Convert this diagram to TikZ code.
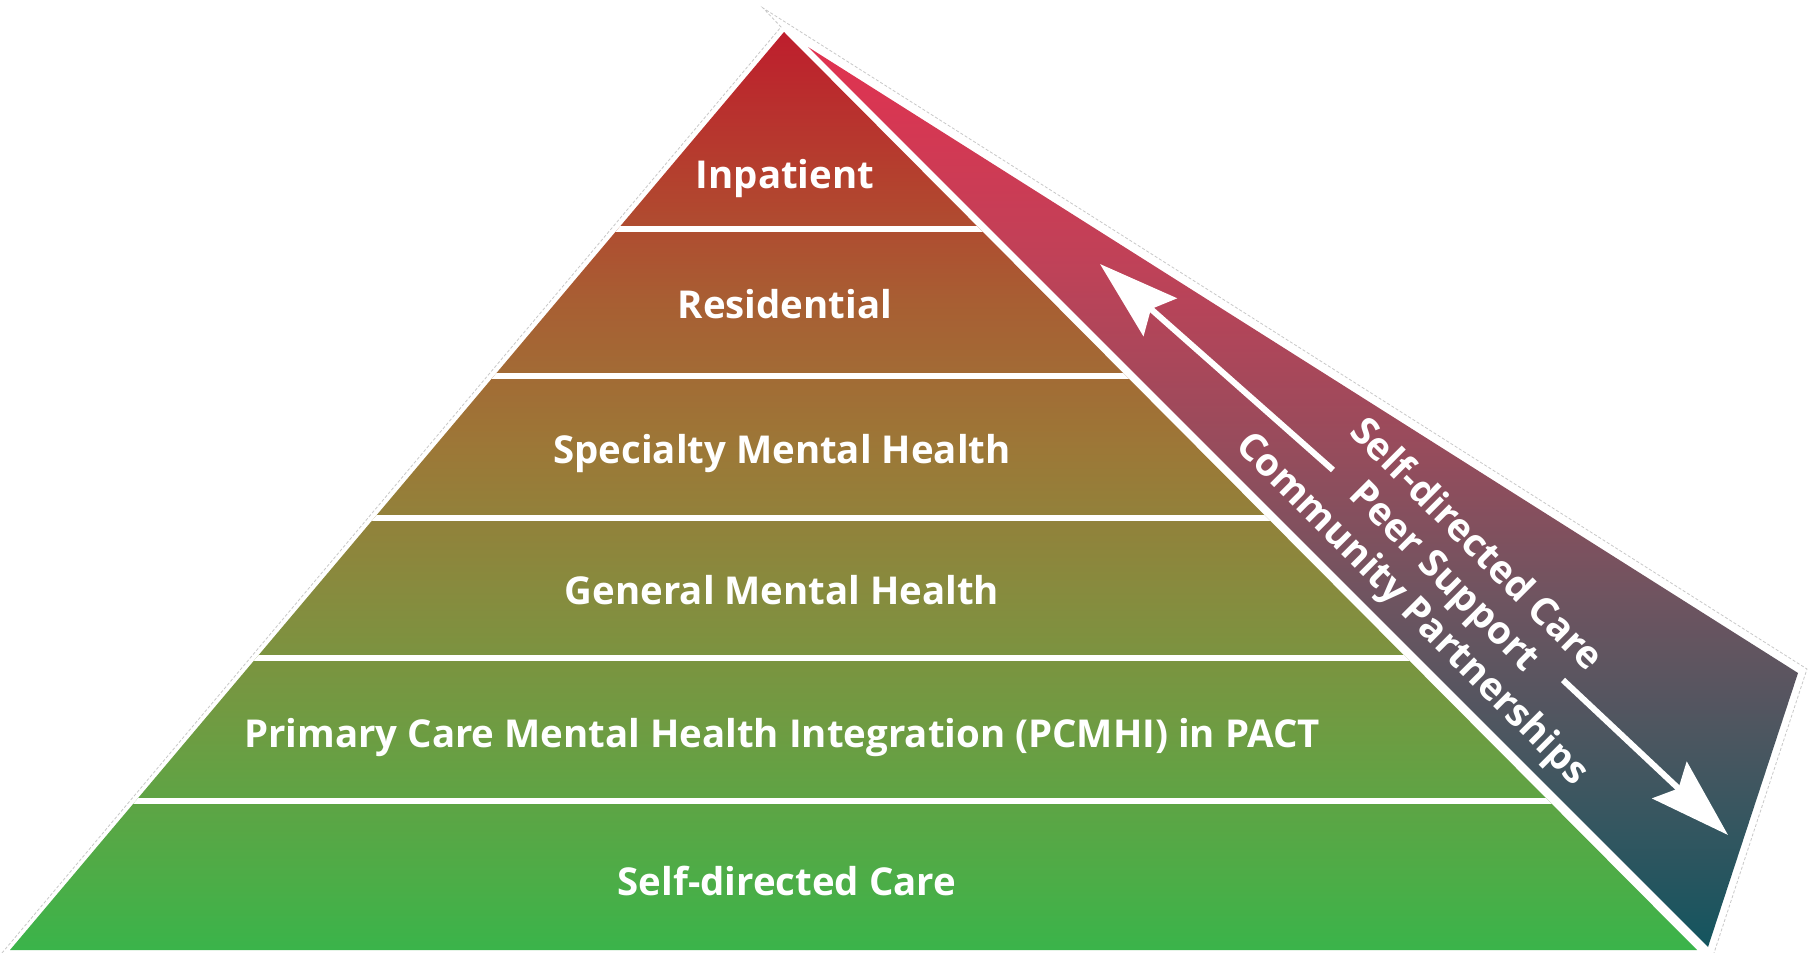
\documentclass[tikz,border=0pt]{standalone}
\usepackage{fontspec}
\setmainfont{Open Sans}
\usetikzlibrary{arrows.meta}

\definecolor{pgA}{RGB}{58,180,74}
\definecolor{pgB}{RGB}{76,173,71}
\definecolor{pgC}{RGB}{110,156,66}
\definecolor{pgD}{RGB}{135,139,62}
\definecolor{pgE}{RGB}{156,120,55}
\definecolor{pgF}{RGB}{168,94,51}
\definecolor{pgG}{RGB}{180,64,46}
\definecolor{pgH}{RGB}{190,30,45}

\definecolor{bgA}{RGB}{20,85,95}
\definecolor{bgB}{RGB}{72,86,96}
\definecolor{bgC}{RGB}{110,84,96}
\definecolor{bgD}{RGB}{150,76,92}
\definecolor{bgE}{RGB}{190,66,88}
\definecolor{bgF}{RGB}{225,50,80}
\definecolor{outlinegray}{RGB}{200,200,200}

\pgfdeclareverticalshading{pyrshade}{100bp}{color(0bp)=(pgA); color(25bp)=(pgA); color(28.8bp)=(pgB); color(37bp)=(pgC); color(44.6bp)=(pgD); color(52.2bp)=(pgE); color(60.4bp)=(pgF); color(67.2bp)=(pgG); color(75bp)=(pgH); color(100bp)=(pgH)}
\pgfdeclareverticalshading{bandshade}{100bp}{color(0bp)=(bgA); color(25bp)=(bgA); color(35.9bp)=(bgB); color(44.3bp)=(bgC); color(52.6bp)=(bgD); color(62.6bp)=(bgE); color(75bp)=(bgF); color(100bp)=(bgF)}

\tikzset{
  layerlabel/.style={text=white, font=\fontsize{38.4}{45}\selectfont\bfseries, anchor=base, inner sep=0pt},
  bandlabel/.style={text=white, font=\fontsize{38.4}{45}\selectfont\bfseries, align=center, inner sep=0pt, rotate=-45},
  separator/.style={white, line width=6pt},
  whitearrow/.style={white, line width=6pt, -{Stealth[length=80pt, width=50pt, inset=12pt]}},
}

\begin{document}
\begin{tikzpicture}[x=1pt, y=-1pt]
\useasboundingbox (0,0) rectangle (1808,953);
\fill[white] (0,0) rectangle (1808,953);

% faint cut-out outline
\draw[outlinegray, line width=0.8pt, dash pattern=on 3pt off 2pt]
  (2,953) -- (781,27) -- (763,8) -- (1807,669) -- (1714,953);

% pyramid
\coordinate (apex) at (784,32);
\coordinate (bl) at (10,950);
\coordinate (br) at (1697,950);
\path[shading=pyrshade] (apex) -- (br) -- (bl) -- cycle;

% separators
\begin{scope}
  \clip (apex) -- (br) -- (bl) -- cycle;
  \foreach \yy in {229,376,518,658,801}
    \draw[separator] (0,\yy) -- (1808,\yy);
\end{scope}

% side band
\coordinate (btop) at (808,47);
\coordinate (bcorner) at (1798,673);
\coordinate (bbot) at (1708,947);
\path[shading=bandshade] (btop) -- (bcorner) -- (bbot) -- cycle;

% layer labels
\node[layerlabel] (inp) at (785,188) {Inpatient};
\node[layerlabel] (res) at (785,318) {Residential};
\node[layerlabel] (spec) at (782,463) {Specialty Mental Health};
\node[layerlabel] (gen) at (782,604) {General Mental Health};
\node[layerlabel] (pcmhi) at (782,747) {Primary Care Mental Health Integration (PCMHI) in PACT};
\node[layerlabel] (self) at (787,895) {Self-directed Care};

% band label
\node[bandlabel] (bandtxt) at (1443,578) {Self-directed Care\\Peer Support\\Community Partnerships};

% arrows
\coordinate (upS) at (1333,470);
\coordinate (upT) at (1100,264);
\coordinate (dnS) at (1563,680);
\coordinate (dnT) at (1728,835);
\draw[whitearrow] (upS) -- (upT);
\draw[whitearrow] (dnS) -- (dnT);
\end{tikzpicture}
\end{document}
